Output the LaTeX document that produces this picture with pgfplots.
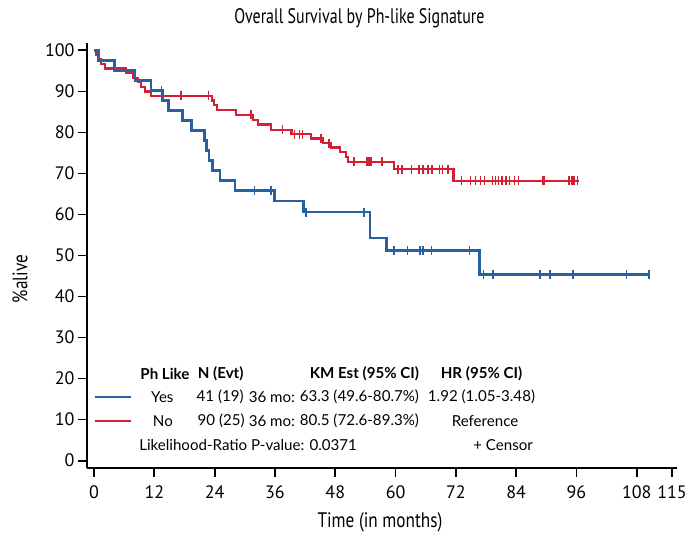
\documentclass[border=0pt]{standalone}
\usepackage{fontspec}
\setmainfont{PT Sans}
\newfontfamily\lgdfont{Lato}
\usepackage{pgfplots}
\pgfplotsset{compat=1.18}
\definecolor{kmblue}{RGB}{40,96,165}
\definecolor{kmred}{RGB}{212,32,52}
\newcommand{\lgd}{\lgdfont\fontsize{15.1}{16}\selectfont}
\begin{document}
\begin{tikzpicture}[x=1pt,y=1pt]
\path[use as bounding box] (0,0) rectangle (689,535);
\begin{axis}[
  at={(87pt,67pt)}, anchor=south west,
  scale only axis, width=590pt, height=425pt,
  xmin=-1.4, xmax=116, ymin=-1.8, ymax=101.8,
  axis lines=left, axis line style={line width=2.2pt,-},
  xtick={0,12,24,36,48,60,72,84,96,108,115},
  ytick={0,10,20,30,40,50,60,70,80,90,100},
  tick style={line width=1.8pt,black}, tick align=outside, major tick length=9pt,
  /pgf/number format/assume math mode=true,
  ticklabel style={font=\fontsize{18}{18}\selectfont},
  xticklabel style={yshift=-5pt},
  clip=false,
]
% Red (No)
\addplot[const plot, kmred, line width=2.3pt] coordinates {
(0,100)(0.4,98.89)(0.8,97.78)(1.4,96.67)(2.2,95.56)(6.4,94.44)(7.8,93.33)(8.8,92.22)(9.4,91.11)(10.2,90.0)(11.4,88.89)
(23.5,87.8)(23.9,86.6)(24.4,85.4)(28.3,84.3)(31.6,83.1)(32.6,81.9)(35.2,80.6)(39.3,79.6)(43.2,78.5)(45.5,77.4)
(47.2,76.3)(48.9,75.3)(50.2,74.0)(50.6,72.8)(59.7,71.0)(71.5,68.2)(96.5,68.2)};
\addplot[only marks, kmred, mark=|, mark size=4.5pt, mark options={line width=1.5pt}] coordinates {
(17.3,88.89)(22.8,88.89)(31.2,84.3)(37.5,80.6)(39.9,79.6)(40.9,79.6)(41.5,79.6)(45.2,78.5)(46.8,77.4)
(51.7,72.8)(54.3,72.8)(54.7,72.8)(55.1,72.8)(57.3,72.8)
(60.5,71)(61.3,71)(63.2,71)(64.7,71)(65.5,71)(66.5,71)(67.2,71)(68.7,71)(69.3,71)(70.4,71)
(73.1,68.2)(74.9,68.2)(75.9,68.2)(76.9,68.2)(77.7,68.2)(79.3,68.2)(79.9,68.2)(80.5,68.2)(81.2,68.2)(82,68.2)
(82.7,68.2)(83.7,68.2)(84.5,68.2)(89.3,68.2)(89.6,68.2)(94.5,68.2)(95.1,68.2)(95.5,68.2)(96.2,68.2)};
% Blue (Yes)
\addplot[const plot, kmblue, line width=2.3pt] coordinates {
(0,100)(0.9,97.56)(4.1,95.12)(8.2,92.68)(11.3,90.24)(13.6,87.80)(14.8,85.37)(17.6,82.93)(19.4,80.49)(22.0,78.05)
(22.4,75.61)(22.9,73.17)(23.6,70.73)(25.0,68.29)(28.0,65.85)(35.9,63.21)(41.7,60.58)(54.9,54.2)(58.2,51.2)(76.7,45.4)(110.4,45.4)};
\addplot[only marks, kmblue, mark=|, mark size=4.5pt, mark options={line width=1.5pt}] coordinates {
(13.4,90.24)(31.9,65.85)(35.2,65.85)(42.2,60.58)(53.7,60.58)(59.7,51.2)(62.4,51.2)(64.9,51.2)(65.5,51.2)(67.1,51.2)(74.7,51.2)
(77.5,45.4)(79.4,45.4)(88.7,45.4)(90.7,45.4)(95.3,45.4)(106,45.4)(110.4,45.4)};
% legend table
\draw[kmblue, line width=2pt] (axis cs:0.2,15.5) -- (axis cs:7.4,15.5);
\draw[kmred, line width=2pt] (axis cs:0.2,9.6) -- (axis cs:7.4,9.6);
\node[font=\lgd\bfseries] at (axis cs:14.1,21.1) {Ph Like};
\node[font=\lgd\bfseries] at (axis cs:25.2,21.1) {N (Evt)};
\node[font=\lgd\bfseries] at (axis cs:53.8,21.1) {KM Est (95\% CI)};
\node[font=\lgd\bfseries] at (axis cs:77.1,21.1) {HR (95\% CI)};
\node[font=\lgd] at (axis cs:13.6,15.5) {Yes};
\node[font=\lgd] at (axis cs:25.1,15.5) {41 (19)};
\node[font=\lgd] at (axis cs:35.4,15.5) {36 mo:};
\node[font=\lgd] at (axis cs:52.8,15.5) {63.3 (49.6-80.7\%)};
\node[font=\lgd] at (axis cs:77.1,15.5) {1.92 (1.05-3.48)};
\node[font=\lgd] at (axis cs:13.7,9.6) {No};
\node[font=\lgd] at (axis cs:25.3,9.6) {90 (25)};
\node[font=\lgd] at (axis cs:35.4,9.6) {36 mo:};
\node[font=\lgd] at (axis cs:52.8,9.6) {80.5 (72.6-89.3\%)};
\node[font=\lgd] at (axis cs:77.8,9.6) {Reference};
\node[font=\lgd, anchor=west, inner sep=0pt] at (axis cs:8.96,3.8) {Likelihood-Ratio P-value: 0.0371};
\node[font=\lgd] at (axis cs:81.4,3.8) {+ Censor};
\end{axis}
\node[font=\fontsize{21}{22}\selectfont] at (359.5,517) {\scalebox{0.76}[1]{Overall Survival by Ph-like Signature}};
\node[font=\fontsize{21}{22}\selectfont] at (380,13) {\scalebox{0.82}[1]{Time (in months)}};
\node[font=\fontsize{21}{22}\selectfont, rotate=90] at (20,256) {\scalebox{0.82}[1]{\%alive}};
\end{tikzpicture}
\end{document}
